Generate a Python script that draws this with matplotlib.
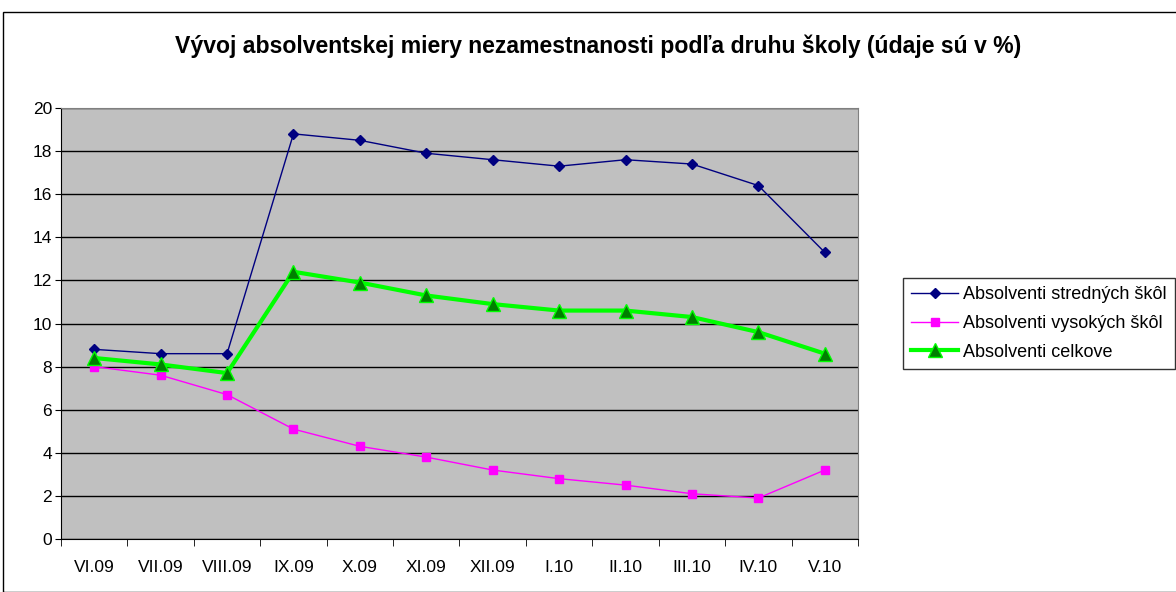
import matplotlib.pyplot as plt
import numpy as np
from matplotlib.patches import Rectangle

plt.rcParams['font.family'] = ['Liberation Sans', 'DejaVu Sans']

months = ['VI.09', 'VII.09', 'VIII.09', 'IX.09', 'X.09', 'XI.09', 'XII.09',
          'I.10', 'II.10', 'III.10', 'IV.10', 'V.10']
stredne = [8.8, 8.6, 8.6, 18.8, 18.5, 17.9, 17.6, 17.3, 17.6, 17.4, 16.4, 13.3]
vysoke = [8.0, 7.6, 6.7, 5.1, 4.3, 3.8, 3.2, 2.8, 2.5, 2.1, 1.9, 3.2]
celkove = [8.4, 8.1, 7.7, 12.4, 11.9, 11.3, 10.9, 10.6, 10.6, 10.3, 9.6, 8.6]

fig = plt.figure(figsize=(11.76, 5.92), dpi=100)
ax = fig.add_axes([61 / 1176, 1 - 539 / 592, 797 / 1176, 431 / 592])
ax.set_facecolor('#c0c0c0')

x = np.arange(len(months))
ax.plot(x, stredne, color='#000080', lw=1, marker='D', ms=5.5,
        label='Absolventi stredných škôl', zorder=4)
ax.plot(x, vysoke, color='#ff00ff', lw=1, marker='s', ms=6,
        label='Absolventi vysokých škôl', zorder=3)
ax.plot(x, celkove, color='#00ff00', lw=3, marker='^', ms=10,
        markerfacecolor='#007f00', markeredgecolor='#00ff00', markeredgewidth=1,
        label='Absolventi celkove', zorder=5)

ax.set_xlim(-0.5, len(months) - 0.5)
ax.set_ylim(0, 20)
ax.set_yticks(np.arange(0, 21, 2))
ax.yaxis.grid(True, color='black', lw=1)
ax.set_axisbelow(True)

ax.set_xticks(x)
ax.set_xticklabels(months, fontsize=12.5)
ax.set_xticks(np.arange(-0.5, len(months)), minor=True)
ax.tick_params(axis='x', which='major', length=0, pad=15)
ax.tick_params(axis='x', which='minor', length=5, direction='out')
ax.tick_params(axis='y', labelsize=12.5, length=4.5, pad=2)

for s in ['top', 'right']:
    ax.spines[s].set_color('#808080')
for s in ['left', 'bottom']:
    ax.spines[s].set_color('black')

fig.text(598 / 1176, 1 - 46 / 592, 'Vývoj absolventskej miery nezamestnanosti podľa druhu školy (údaje sú v %)',
         ha='center', va='center', fontsize=16.6, fontweight='bold')

leg = fig.legend(loc='upper left', bbox_to_anchor=(903 / 1176, 1 - 278 / 592),
                 fontsize=13, frameon=True, fancybox=False, borderpad=0.45,
                 handlelength=2.6, labelspacing=0.65, handletextpad=0.3,
                 borderaxespad=0)
leg.get_frame().set_edgecolor('black')
leg.get_frame().set_linewidth(1)

fig.patches.append(Rectangle((3 / 1176, 0), 1.2, 1 - 12 / 592, transform=fig.transFigure,
                             fill=False, edgecolor='black', lw=1))

fig.savefig('out.png', dpi=100)
